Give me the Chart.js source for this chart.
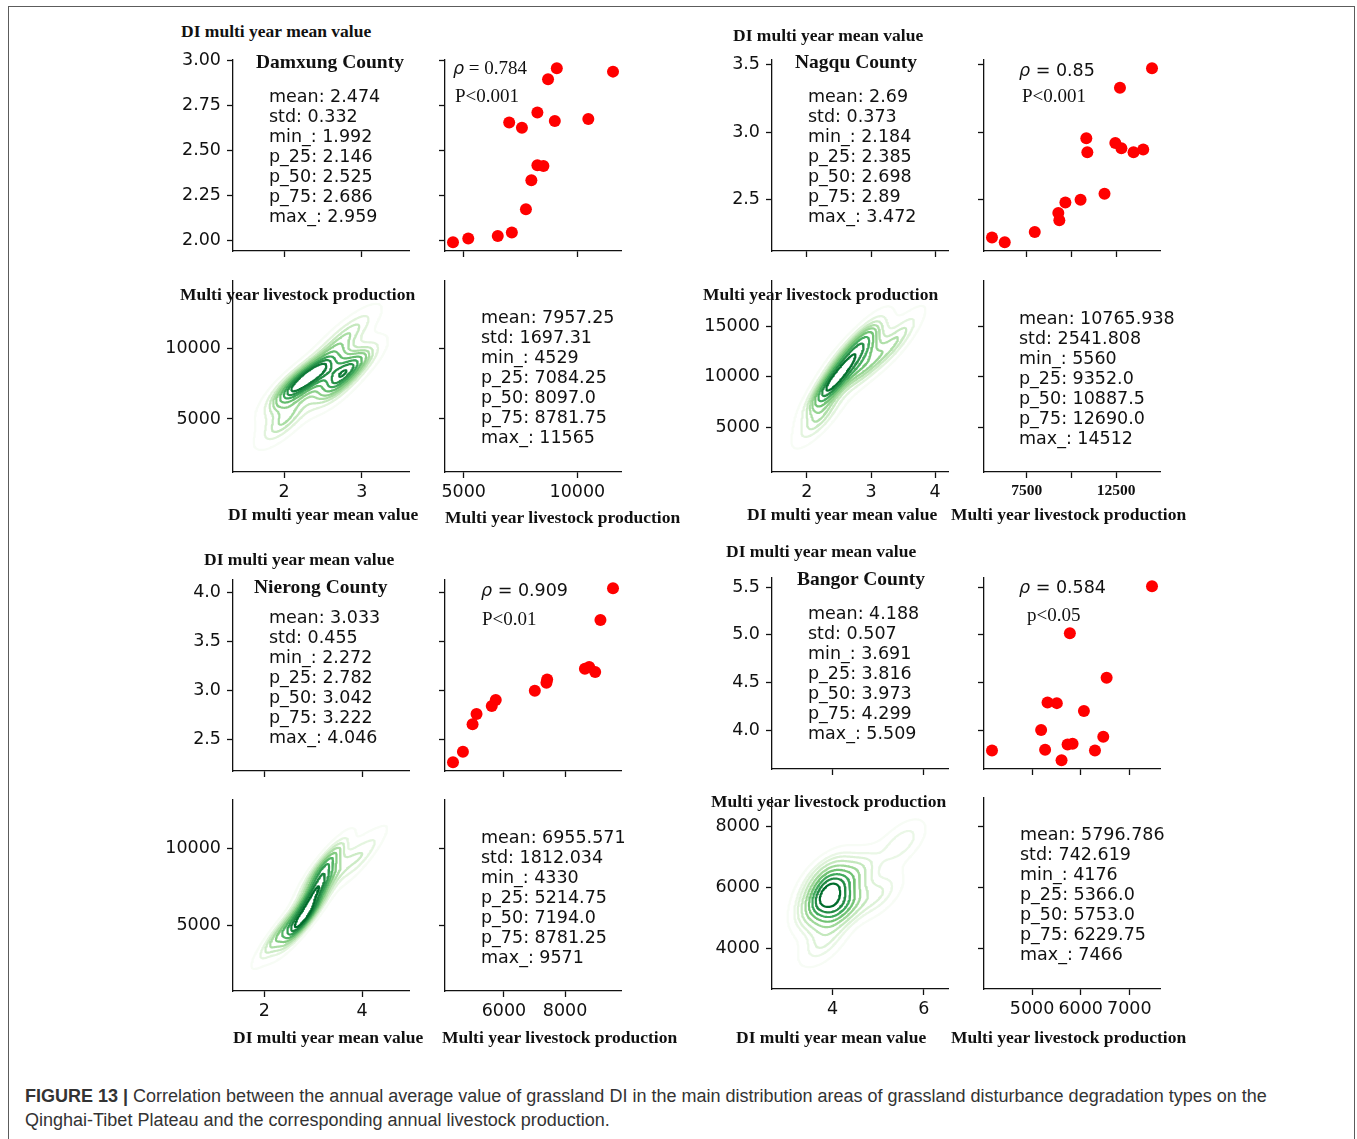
<!DOCTYPE html>
<html>
<head>
<meta charset="utf-8">
<script src="https://cdn.jsdelivr.net/npm/chart.js"></script>
<style>
  html, body { margin: 0; padding: 0; background: #fff; width: 1357px; height: 1139px; overflow: hidden; }
  #fig { position: absolute; left: 0; top: 0; width: 1357px; height: 1139px; }
  #frame { position: absolute; left: 8px; top: 6px; width: 1347px; height: 1200px; border: 1px solid #5c5c5c; box-sizing: border-box; }
  canvas { position: absolute; }
  .t { position: absolute; white-space: pre; z-index: 5; color: #111; }
  .lbl { font-family: "Liberation Serif", "Times New Roman", serif; font-weight: bold; font-size: 17.5px; line-height: 20px; }
  .county { font-family: "Liberation Serif", "Times New Roman", serif; font-weight: bold; font-size: 19.5px; line-height: 22px; }
  .stats { font-family: "DejaVu Sans", sans-serif; font-size: 17.5px; line-height: 20px; }
  .rho { font-family: "DejaVu Sans", sans-serif; font-size: 17.5px; line-height: 20px; }
  .rho i { font-style: italic; }
  .serif { font-family: "Liberation Serif", "Times New Roman", serif; font-size: 19px; line-height: 20px; }
  #caption { position: absolute; left: 25px; top: 1084px; font-family: "Liberation Sans", Arial, sans-serif; font-size: 18px; line-height: 24px; color: #333; white-space: nowrap; }
</style>
</head>
<body>
<div id="fig">
  <div id="frame"></div>
  <div id="caption"><b>FIGURE 13 |</b> Correlation between the annual average value of grassland DI in the main distribution areas of grassland disturbance degradation types on the<br>Qinghai-Tibet Plateau and the corresponding annual livestock production.</div>
</div>
<script>
// ---------------------------------------------------------------------------
// Data: one DI value and one livestock value per year, for each county
// ---------------------------------------------------------------------------
const statNames = ['mean', 'std', 'min_', 'p_25', 'p_50', 'p_75', 'max_'];
const countyNames = ['Damxung County', 'Nagqu County', 'Nierong County', 'Bangor County'];
const rowLabel = 'DI multi year mean value';
const colLabel = 'Multi year livestock production';

// Damxung County
const damxungLivestock = [4529, 5200, 6498, 7116, 7736, 7975, 8240, 8505, 7000, 7560, 8240, 9006, 10480, 8709, 9094, 11565];
const damxungDI = [1.992, 2.013, 2.027, 2.047, 2.175, 2.336, 2.420, 2.416, 2.658, 2.628, 2.713, 2.666, 2.677, 2.898, 2.959, 2.940];
const damxungDIStats = ['2.474', '0.332', '1.992', '2.146', '2.525', '2.686', '2.959'];
const damxungLivestockStats = ['7957.25', '1697.31', '4529', '7084.25', '8097.0', '8781.75', '11565'];
const damxungDIRowTicks = [2.0, 2.25, 2.5, 2.75, 3.0];
const damxungDIColTicks = [2, 3];
const damxungLivestockColTicks = [5000, 10000];
const damxungLivestockRowTicks = [5000, 10000];
const damxungRho = '0.784';
const damxungP = 'P<0.001';

// Nagqu County
const nagquLivestock = [5560, 6273, 7952, 9270, 9327, 9666, 10515, 11855, 10837, 10894, 12460, 12800, 13478, 14021, 12720, 14512];
const nagquDI = [2.219, 2.184, 2.260, 2.400, 2.347, 2.478, 2.498, 2.544, 2.954, 2.850, 2.918, 2.879, 2.850, 2.871, 3.328, 3.472];
const nagquDIStats = ['2.69', '0.373', '2.184', '2.385', '2.698', '2.89', '3.472'];
const nagquLivestockStats = ['10765.938', '2541.808', '5560', '9352.0', '10887.5', '12690.0', '14512'];
const nagquDIRowTicks = [2.5, 3.0, 3.5];
const nagquDIColTicks = [2, 3, 4];
const nagquLivestockColTicks = [7500, 10000, 12500];
const nagquLivestockColLabels = ['7500', '', '12500'];
const nagquLivestockRowTicks = [5000, 10000, 15000];
const nagquRho = '0.85';
const nagquP = 'P<0.001';

// Nierong County
const nierongLivestock = [4330, 4655, 4971, 5101, 5600, 5730, 7010, 7391, 7414, 8651, 8792, 8987, 9160, 9571];
const nierongDI = [2.272, 2.380, 2.660, 2.763, 2.846, 2.906, 3.000, 3.083, 3.116, 3.226, 3.243, 3.193, 3.723, 4.046];
const nierongDIStats = ['3.033', '0.455', '2.272', '2.782', '3.042', '3.222', '4.046'];
const nierongLivestockStats = ['6955.571', '1812.034', '4330', '5214.75', '7194.0', '8781.25', '9571'];
const nierongDIRowTicks = [2.5, 3.0, 3.5, 4.0];
const nierongDIColTicks = [2, 4];
const nierongLivestockColTicks = [6000, 8000];
const nierongLivestockRowTicks = [5000, 10000];
const nierongRho = '0.909';
const nierongP = 'P<0.01';

// Bangor County
const bangorLivestock = [4176, 5186, 5268, 5318, 5509, 5606, 5730, 5833, 5777, 6066, 6293, 6464, 6533, 7466];
const bangorDI = [3.794, 4.007, 3.801, 4.295, 4.288, 3.691, 3.856, 3.863, 5.018, 4.206, 3.794, 3.938, 4.552, 5.509];
const bangorDIStats = ['4.188', '0.507', '3.691', '3.816', '3.973', '4.299', '5.509'];
const bangorLivestockStats = ['5796.786', '742.619', '4176', '5366.0', '5753.0', '6229.75', '7466'];
const bangorDIRowTicks = [4.0, 4.5, 5.0, 5.5];
const bangorDIColTicks = [4, 6];
const bangorLivestockColTicks = [5000, 6000, 7000];
const bangorLivestockRowTicks = [4000, 6000, 8000];
const bangorRho = '0.584';
const bangorP = 'p<0.05';

// ---------------------------------------------------------------------------
// Layout
// ---------------------------------------------------------------------------
const W = 176, H = 194;            // plotting area of one panel
const ML = 95, MT = 14, MR = 16, MB = 48;
const tickFont = { family: 'DejaVu Sans', size: 17.5 };
const fig = document.getElementById('fig');

const counties = [
  { name: countyNames[0], di: damxungDI, lv: damxungLivestock, diStats: damxungDIStats, lvStats: damxungLivestockStats,
    diRow: damxungDIRowTicks, diCol: damxungDIColTicks, lvCol: damxungLivestockColTicks, lvRow: damxungLivestockRowTicks,
    rho: damxungRho, p: damxungP, rhoSerif: true, diDigits: 2,
    pos: { colX: [233, 445], rowY: [57, 278], diTitle: [181, 31], county: [256, 62], diStats: [269, 96], rho: [453, 68], p: [455, 96],
           lvTitle: [180, 294], lvStats: [481, 317], xLab1: [228, 514], xLab2: [445, 517] } },
  { name: countyNames[1], di: nagquDI, lv: nagquLivestock, diStats: nagquDIStats, lvStats: nagquLivestockStats,
    diRow: nagquDIRowTicks, diCol: nagquDIColTicks, lvCol: nagquLivestockColTicks, lvRow: nagquLivestockRowTicks,
    lvColLabels: nagquLivestockColLabels, rho: nagquRho, p: nagquP, rhoSerif: false, diDigits: 1,
    pos: { colX: [772, 984], rowY: [57, 278], diTitle: [733, 35], county: [795, 62], diStats: [808, 96], rho: [1019, 70], p: [1022, 96],
           lvTitle: [703, 294], lvStats: [1019, 318], xLab1: [747, 514], xLab2: [951, 514] } },
  { name: countyNames[2], di: nierongDI, lv: nierongLivestock, diStats: nierongDIStats, lvStats: nierongLivestockStats,
    diRow: nierongDIRowTicks, diCol: nierongDIColTicks, lvCol: nierongLivestockColTicks, lvRow: nierongLivestockRowTicks,
    rho: nierongRho, p: nierongP, rhoSerif: false, diDigits: 1,
    pos: { colX: [233, 445], rowY: [577, 797], diTitle: [204, 559], county: [254, 587], diStats: [269, 617], rho: [481, 590], p: [482, 619],
           lvTitle: null, lvStats: [481, 837], xLab1: [233, 1037], xLab2: [442, 1037] } },
  { name: countyNames[3], di: bangorDI, lv: bangorLivestock, diStats: bangorDIStats, lvStats: bangorLivestockStats,
    diRow: bangorDIRowTicks, diCol: bangorDIColTicks, lvCol: bangorLivestockColTicks, lvRow: bangorLivestockRowTicks,
    rho: bangorRho, p: bangorP, rhoSerif: false, diDigits: 1,
    pos: { colX: [772, 984], rowY: [575, 795], diTitle: [726, 551], county: [797, 579], diStats: [808, 613], rho: [1019, 587], p: [1027, 615],
           lvTitle: [711, 801], lvStats: [1020, 834], xLab1: [736, 1037], xLab2: [951, 1037] } }
];

// ---------------------------------------------------------------------------
// Bivariate gaussian KDE (Scott factor, full covariance), cut = 3 bandwidths
// ---------------------------------------------------------------------------
function kdeGrid(xs, ys, n) {
  const N = xs.length;
  const mx = xs.reduce((a, b) => a + b, 0) / N, my = ys.reduce((a, b) => a + b, 0) / N;
  let sxx = 0, syy = 0, sxy = 0;
  for (let i = 0; i < N; i++) { const dx = xs[i] - mx, dy = ys[i] - my; sxx += dx * dx; syy += dy * dy; sxy += dx * dy; }
  sxx /= N - 1; syy /= N - 1; sxy /= N - 1;
  const f = Math.pow(N, -1 / 6);
  const cxx = sxx * f * f, cyy = syy * f * f, cxy = sxy * f * f;
  const det = cxx * cyy - cxy * cxy;
  const ixx = cyy / det, iyy = cxx / det, ixy = -cxy / det;
  const norm = 1 / (N * 2 * Math.PI * Math.sqrt(det));
  const bwx = f * Math.sqrt(sxx), bwy = f * Math.sqrt(syy);
  const x0 = Math.min(...xs) - 3 * bwx, x1 = Math.max(...xs) + 3 * bwx;
  const y0 = Math.min(...ys) - 3 * bwy, y1 = Math.max(...ys) + 3 * bwy;
  const gx = [], gy = [];
  for (let i = 0; i < n; i++) { gx.push(x0 + (x1 - x0) * i / (n - 1)); gy.push(y0 + (y1 - y0) * i / (n - 1)); }
  const z = [];
  let zmin = Infinity, zmax = -Infinity;
  for (let j = 0; j < n; j++) {
    const row = [];
    for (let i = 0; i < n; i++) {
      let s = 0;
      for (let k = 0; k < N; k++) {
        const dx = gx[i] - xs[k], dy = gy[j] - ys[k];
        s += Math.exp(-0.5 * (ixx * dx * dx + 2 * ixy * dx * dy + iyy * dy * dy));
      }
      const v = s * norm;
      row.push(v);
      if (v < zmin) zmin = v;
      if (v > zmax) zmax = v;
    }
    z.push(row);
  }
  return { gx, gy, z, x0, x1, y0, y1, zmin, zmax };
}

// Iso-proportion levels: contour k encloses (1 - q_k) of the density mass
function isoLevels(z, thresh, count) {
  const vals = z.flat().sort((a, b) => b - a);
  const total = vals.reduce((a, b) => a + b, 0);
  const cum = [];
  let acc = 0;
  for (const v of vals) { acc += v; cum.push(acc / total); }
  const levels = [];
  for (let k = 0; k < count; k++) {
    const q = thresh + (1 - thresh) * k / (count - 1);
    const target = 1 - q;
    let lo = 0, hi = cum.length;
    while (lo < hi) { const mid = (lo + hi) >> 1; if (cum[mid] < target) lo = mid + 1; else hi = mid; }
    levels.push(vals[Math.min(lo, vals.length - 1)]);
  }
  return levels;
}

// Marching squares, segments joined into polylines
function contourLines(g, level) {
  const { gx, gy, z } = g;
  const pts = new Map(), adj = new Map();
  const ep = (key, xa, ya, za, xb, yb, zb) => {
    if (!pts.has(key)) { const t = (level - za) / (zb - za); pts.set(key, { x: xa + t * (xb - xa), y: ya + t * (yb - ya) }); }
    return key;
  };
  const link = (a, b) => {
    if (!adj.has(a)) adj.set(a, []);
    if (!adj.has(b)) adj.set(b, []);
    adj.get(a).push(b); adj.get(b).push(a);
  };
  for (let j = 0; j < gy.length - 1; j++) {
    for (let i = 0; i < gx.length - 1; i++) {
      const a = z[j][i], b = z[j][i + 1], c = z[j + 1][i + 1], d = z[j + 1][i];
      const A = a >= level, B = b >= level, C = c >= level, D = d >= level;
      let bot = null, rgt = null, top = null, lft = null;
      if (A !== B) bot = ep('h' + i + ',' + j, gx[i], gy[j], a, gx[i + 1], gy[j], b);
      if (B !== C) rgt = ep('v' + (i + 1) + ',' + j, gx[i + 1], gy[j], b, gx[i + 1], gy[j + 1], c);
      if (D !== C) top = ep('h' + i + ',' + (j + 1), gx[i], gy[j + 1], d, gx[i + 1], gy[j + 1], c);
      if (A !== D) lft = ep('v' + i + ',' + j, gx[i], gy[j], a, gx[i], gy[j + 1], d);
      const cr = [bot, rgt, top, lft].filter(v => v !== null);
      if (cr.length === 2) link(cr[0], cr[1]);
      else if (cr.length === 4) {
        const center = (a + b + c + d) / 4;
        if ((center >= level) === A) { link(bot, rgt); link(top, lft); }
        else { link(bot, lft); link(top, rgt); }
      }
    }
  }
  const visited = new Set(), lines = [];
  const walk = start => {
    const line = [start]; visited.add(start);
    let cur = start;
    for (;;) {
      const nb = adj.get(cur);
      let next = null;
      for (const k of nb) if (!visited.has(k)) { next = k; break; }
      if (next === null) { if (line.length > 2 && nb.includes(start)) line.push(start); break; }
      visited.add(next); line.push(next); cur = next;
    }
    return line.map(k => pts.get(k));
  };
  for (const [k, nb] of adj) if (nb.length === 1 && !visited.has(k)) lines.push(walk(k));
  for (const k of adj.keys()) if (!visited.has(k)) lines.push(walk(k));
  return lines;
}

// Greens colormap
const greens = ['#f7fcf5', '#e5f5e0', '#c7e9c0', '#a1d99b', '#74c476', '#41ab5d', '#238b45', '#006d2c', '#00441b'];
function greenAt(t) {
  t = Math.max(0, Math.min(1, t));
  const p = t * 8, i = Math.min(7, Math.floor(p)), f = p - i;
  const h = s => [1, 3, 5].map(o => parseInt(s.substr(o, 2), 16));
  const c0 = h(greens[i]), c1 = h(greens[i + 1]);
  const c = c0.map((v, k) => Math.round(v + (c1[k] - v) * f));
  return 'rgb(' + c.join(',') + ')';
}

// ---------------------------------------------------------------------------
// Panels
// ---------------------------------------------------------------------------
function axisOpts(ax, isX) {
  return {
    type: 'linear', min: ax.min, max: ax.max,
    afterFit: s => { if (isX) s.height = MB; else s.width = ML; },
    afterBuildTicks: s => { s.ticks = ax.ticks.map(v => ({ value: v })); },
    ticks: {
      autoSkip: false, maxRotation: 0, minRotation: 0, padding: isX ? 4 : 6, color: '#111',
      font: ax.font || tickFont,
      callback: (v, i) => ax.labels ? ax.fmt(v, i) : ''
    },
    grid: { drawOnChartArea: false, drawTicks: true, tickLength: 6, tickWidth: 1.3, tickColor: '#111', color: '#111' },
    border: { display: true, color: '#111', width: 1.3 }
  };
}

function panel(left, top, xAx, yAx, datasets) {
  const cv = document.createElement('canvas');
  cv.width = W + ML + MR; cv.height = H + MT + MB;
  cv.style.left = (left - ML) + 'px'; cv.style.top = (top - MT) + 'px';
  fig.appendChild(cv);
  new Chart(cv, {
    type: 'scatter',
    data: { datasets },
    options: {
      responsive: false, animation: false, devicePixelRatio: 1, events: [],
      layout: { padding: { left: 0, top: MT, right: MR, bottom: 0 }, autoPadding: false },
      plugins: { legend: { display: false }, tooltip: { enabled: false } },
      scales: { x: axisOpts(xAx, true), y: axisOpts(yAx, false) }
    }
  });
}

function addText(html, x, yCenter, cls, lh) {
  const d = document.createElement('div');
  d.className = 't ' + cls;
  d.innerHTML = html;
  d.style.left = x + 'px';
  d.style.top = (yCenter - lh / 2) + 'px';
  fig.appendChild(d);
}

const intFmt = v => String(Math.round(v));

counties.forEach(c => {
  const P = c.pos;
  const kde = kdeGrid(c.di, c.lv, 200);
  const pad = arr => { const lo = Math.min(...arr), hi = Math.max(...arr), m = 0.05 * (hi - lo); return [lo - m, hi + m]; };
  const [diLo, diHi] = pad(c.di);
  const [lvLo, lvHi] = pad(c.lv);
  const diFmt = v => v.toFixed(c.diDigits);

  const colDI = labels => ({ min: kde.x0, max: kde.x1, ticks: c.diCol, labels, fmt: intFmt });
  const colLv = labels => c.lvColLabels
    ? { min: lvLo, max: lvHi, ticks: c.lvCol, labels, fmt: (v, i) => c.lvColLabels[i],
        font: { family: 'Liberation Serif', size: 15.5, weight: 'bold' } }
    : { min: lvLo, max: lvHi, ticks: c.lvCol, labels, fmt: intFmt };
  const rowDI = labels => ({ min: diLo, max: diHi, ticks: c.diRow, labels, fmt: diFmt });
  const rowLv = labels => ({ min: kde.y0, max: kde.y1, ticks: c.lvRow, labels, fmt: intFmt });

  // upper-left: DI summary panel
  panel(P.colX[0], P.rowY[0], colDI(false), rowDI(true), []);

  // upper-right: livestock vs DI scatter
  panel(P.colX[1], P.rowY[0], colLv(false), rowDI(false), [{
    data: c.lv.map((v, i) => ({ x: v, y: c.di[i] })),
    pointRadius: 6, pointHoverRadius: 6, pointBackgroundColor: '#ff0000', pointBorderWidth: 0, showLine: false
  }]);

  // lower-left: KDE contour lines of DI vs livestock
  const levels = isoLevels(kde.z, 0.05, 10);
  const vmin = levels[0], vmax = levels[levels.length - 1];
  const contourSets = [];
  levels.forEach((lev, k) => {
    if (!(lev > kde.zmin && lev < kde.zmax)) return;
    const lines = contourLines(kde, lev);
    const data = [];
    lines.forEach(line => { line.forEach(p => data.push(p)); data.push({ x: line[line.length - 1].x, y: null }); });
    contourSets.push({
      data, showLine: true, spanGaps: false, pointRadius: 0, pointHoverRadius: 0,
      borderColor: greenAt((lev - vmin) / (vmax - vmin)), borderWidth: 2.2, borderCapStyle: 'round', borderJoinStyle: 'round',
      fill: false, tension: 0, order: levels.length - k
    });
  });
  panel(P.colX[0], P.rowY[1], colDI(true), rowLv(true), contourSets);

  // lower-right: livestock summary panel
  panel(P.colX[1], P.rowY[1], colLv(true), rowLv(false), []);

  // texts
  addText(rowLabel, P.diTitle[0], P.diTitle[1], 'lbl', 20);
  addText(c.name, P.county[0], P.county[1], 'county', 22);
  addText(statNames.map((s, i) => s + ': ' + c.diStats[i]).join('\n'), P.diStats[0], P.diStats[1], 'stats', 20);
  addText(statNames.map((s, i) => s + ': ' + c.lvStats[i]).join('\n'), P.lvStats[0], P.lvStats[1], 'stats', 20);
  const rhoHtml = c.rhoSerif
    ? '<i>ρ</i><span class="serif"> = ' + c.rho + '</span>'
    : '<i>ρ</i> = ' + c.rho;
  addText(rhoHtml, P.rho[0], P.rho[1], 'rho', 20);
  addText(c.p.replace('<', '&lt;'), P.p[0], P.p[1], 'serif', 20);
  if (P.lvTitle) addText(colLabel, P.lvTitle[0], P.lvTitle[1], 'lbl', 20);
  addText(rowLabel, P.xLab1[0], P.xLab1[1], 'lbl', 20);
  addText(colLabel, P.xLab2[0], P.xLab2[1], 'lbl', 20);
});
</script>
</body>
</html>
